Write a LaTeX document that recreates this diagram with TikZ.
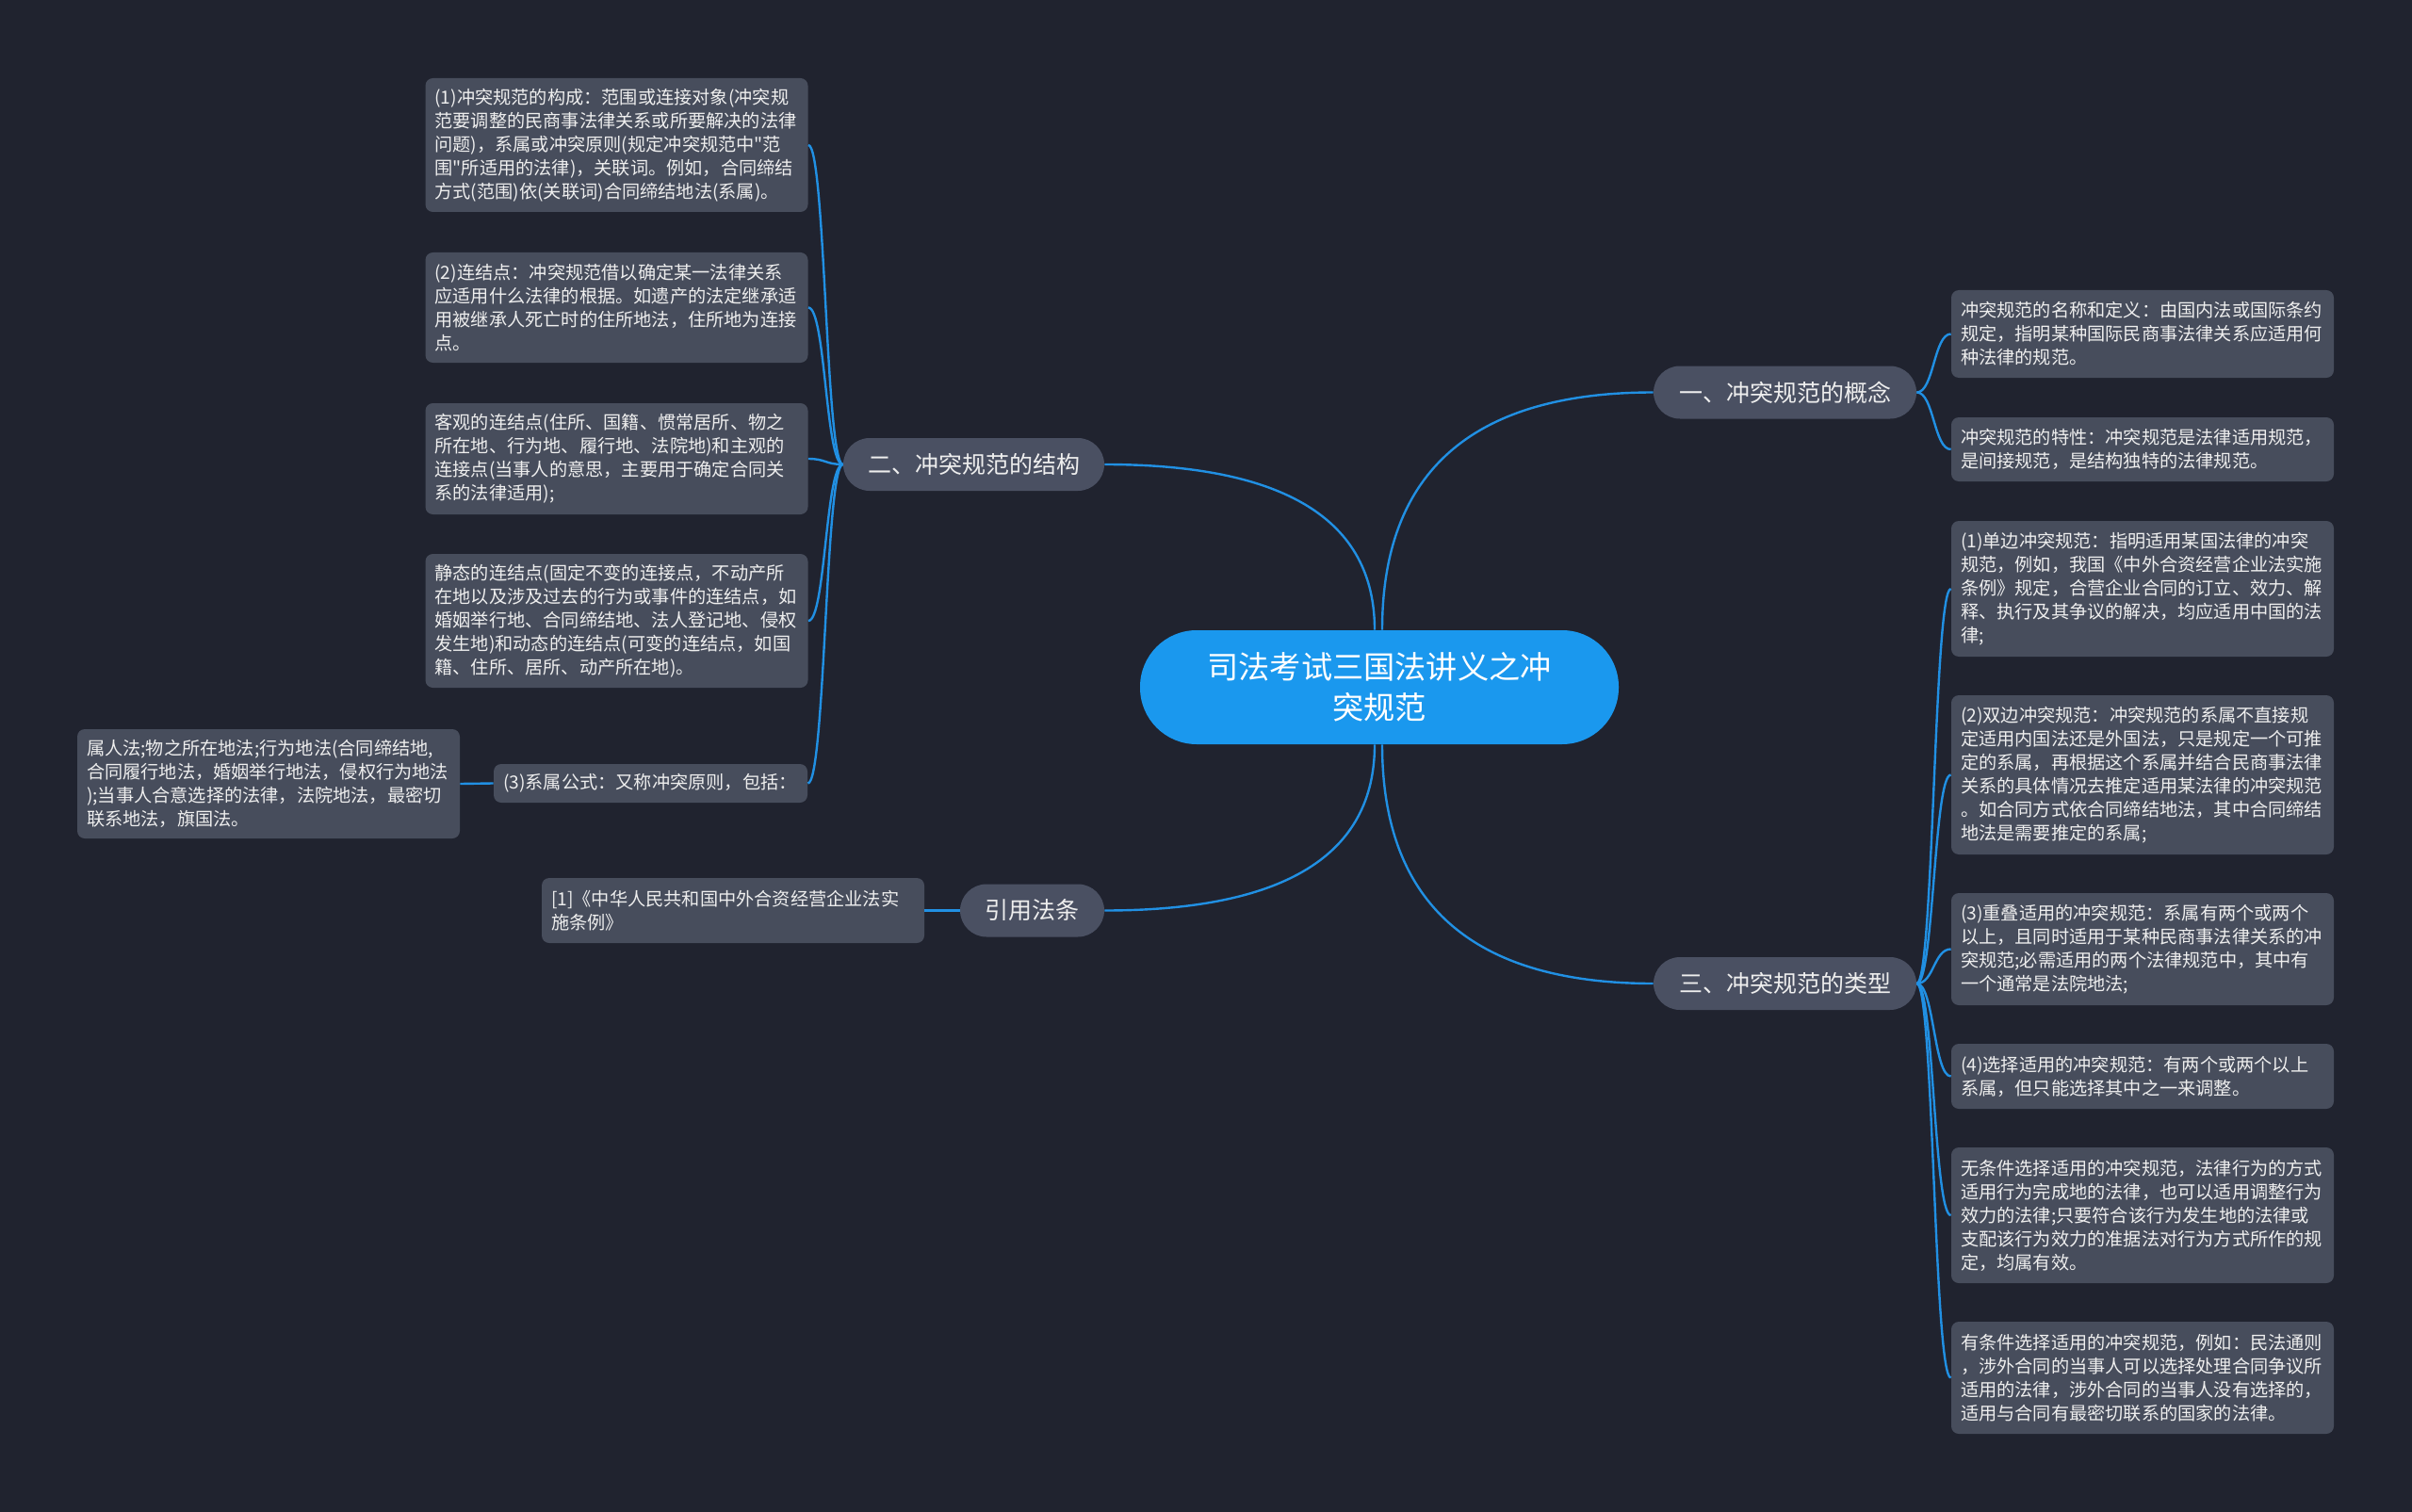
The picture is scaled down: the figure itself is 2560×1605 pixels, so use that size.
\documentclass[tikz,border=0pt]{standalone}
\usepackage{fontspec}
\setmainfont{Noto Sans CJK SC}[Ligatures=TeXOff]
\usetikzlibrary{calc}
\definecolor{bg}{HTML}{20232F}
\definecolor{boxc}{HTML}{474D5C}
\definecolor{pillc}{HTML}{4A5062}
\definecolor{rootc}{HTML}{1A98EE}
\definecolor{linec}{HTML}{2190E3}
\definecolor{txt}{HTML}{EEEEEE}
\newcommand{\rootlink}[2]{\draw[conn] (#1) .. controls ($(#1)!0.6667!(#1|-#2)$) and ($(#2)!0.6667!(#1|-#2)$) .. (#2);}
\newcommand{\leaflink}[2]{\draw[conn] (#1) .. controls ($(#1)!0.5!(#2|-#1)$) and ($(#2)!0.5!(#1|-#2)$) .. (#2);}
\begin{document}
\begin{tikzpicture}[x=0.5pt,y=-0.5pt,
  leaf/.style={fill=boxc, rounded corners=4pt, text=txt, align=left, text width=193pt, inner xsep=5pt, inner ysep=0pt, font=\fontsize{9.6pt}{12.5pt}\selectfont},
  pill/.style={fill=pillc, rounded corners=14pt, text=txt, minimum height=28pt, inner xsep=0pt, font=\fontsize{12.5pt}{15pt}\selectfont},
  rootnode/.style={fill=rootc, rounded corners=30pt, text=white, align=center, minimum width=254pt, minimum height=60.5pt, font=\fontsize{16.6pt}{21.5pt}\selectfont},
  conn/.style={draw=linec, line width=1.2pt}]
\fill[bg] (0,0) rectangle (2560,1605);
\useasboundingbox (0,0) rectangle (2560,1605);

\node[rootnode] (root) at (1464,729.5) {司法考试三国法讲义之冲\\突规范};

\node[pill, minimum width=139.5pt] (n1) at (1894.5,416.5) {一、冲突规范的概念};
\node[pill, minimum width=139.5pt] (n3) at (1894.5,1044) {三、冲突规范的类型};
\node[pill, minimum width=138.5pt] (n2) at (1033.5,493) {二、冲突规范的结构};
\node[pill, minimum width=76.5pt] (n4) at (1095.5,966.5) {引用法条};

% right leaves
\node[leaf, minimum height=46.5pt] (a1) at (2274,354.5) {冲突规范的名称和定义：由国内法或国际条约\\规定，指明某种国际民商事法律关系应适用何\\种法律的规范。};
\node[leaf, minimum height=34pt] (a2) at (2274,477) {冲突规范的特性：冲突规范是法律适用规范，\\是间接规范，是结构独特的法律规范。};

\node[leaf, minimum height=72pt] (c1) at (2274,625) {(1)单边冲突规范：指明适用某国法律的冲突\\规范，例如，我国《中外合资经营企业法实施\\条例》规定，合营企业合同的订立、效力、解\\释、执行及其争议的解决，均应适用中国的法\\律;};
\node[leaf, minimum height=84.5pt] (c2) at (2274,822.5) {(2)双边冲突规范：冲突规范的系属不直接规\\定适用内国法还是外国法，只是规定一个可推\\定的系属，再根据这个系属并结合民商事法律\\关系的具体情况去推定适用某法律的冲突规范\\。如合同方式依合同缔结地法，其中合同缔结\\地法是需要推定的系属;};
\node[leaf, minimum height=59.5pt] (c3) at (2274,1007.5) {(3)重叠适用的冲突规范：系属有两个或两个\\以上，且同时适用于某种民商事法律关系的冲\\突规范;必需适用的两个法律规范中，其中有\\一个通常是法院地法;};
\node[leaf, minimum height=34.5pt] (c4) at (2274,1142.5) {(4)选择适用的冲突规范：有两个或两个以上\\系属，但只能选择其中之一来调整。};
\node[leaf, minimum height=72pt] (c5) at (2274,1290) {无条件选择适用的冲突规范，法律行为的方式\\适用行为完成地的法律，也可以适用调整行为\\效力的法律;只要符合该行为发生地的法律或\\支配该行为效力的准据法对行为方式所作的规\\定，均属有效。};
\node[leaf, minimum height=59.5pt] (c6) at (2274,1462.5) {有条件选择适用的冲突规范，例如：民法通则\\，涉外合同的当事人可以选择处理合同争议所\\适用的法律，涉外合同的当事人没有选择的，\\适用与合同有最密切联系的国家的法律。};

% left leaves
\node[leaf, minimum height=71pt] (b1) at (654.5,154) {(1)冲突规范的构成：范围或连接对象(冲突规\\范要调整的民商事法律关系或所要解决的法律\\问题)，系属或冲突原则(规定冲突规范中"范\\围"所适用的法律)，关联词。例如，合同缔结\\方式(范围)依(关联词)合同缔结地法(系属)。};
\node[leaf, minimum height=58.5pt] (b2) at (654.5,326.5) {(2)连结点：冲突规范借以确定某一法律关系\\应适用什么法律的根据。如遗产的法定继承适\\用被继承人死亡时的住所地法，住所地为连接\\点。};
\node[leaf, minimum height=59pt] (b3) at (654.5,487) {客观的连结点(住所、国籍、惯常居所、物之\\所在地、行为地、履行地、法院地)和主观的\\连接点(当事人的意思，主要用于确定合同关\\系的法律适用);};
\node[leaf, minimum height=71pt] (b4) at (654.5,659) {静态的连结点(固定不变的连接点，不动产所\\在地以及涉及过去的行为或事件的连结点，如\\婚姻举行地、合同缔结地、法人登记地、侵权\\发生地)和动态的连结点(可变的连结点，如国\\籍、住所、居所、动产所在地)。};
\node[leaf, text width=156.5pt, minimum height=20.5pt] (b5) at (690.5,831.5) {(3)系属公式：又称冲突原则，包括：};
\node[leaf, minimum height=58pt] (g1) at (285,832) {属人法;物之所在地法;行为地法(合同缔结地,\\合同履行地法，婚姻举行地法，侵权行为地法\\);当事人合意选择的法律，法院地法，最密切\\联系地法，旗国法。};
\node[leaf, minimum height=34.5pt] (d1) at (778,966.5) {[1]《中华人民共和国中外合资经营企业法实\\施条例》};

% root connectors
\coordinate (rtR) at ([xshift=1.5pt]root.north);
\coordinate (rtL) at ([xshift=-2.5pt]root.north);
\coordinate (rbR) at ([xshift=1.5pt]root.south);
\coordinate (rbL) at ([xshift=-2.5pt]root.south);
\rootlink{rtR}{n1.west}
\rootlink{rbR}{n3.west}
\rootlink{rtL}{n2.east}
\rootlink{rbL}{n4.east}

% leaf connectors
\leaflink{n1.east}{a1.west}
\leaflink{n1.east}{a2.west}
\leaflink{n3.east}{c1.west}
\leaflink{n3.east}{c2.west}
\leaflink{n3.east}{c3.west}
\leaflink{n3.east}{c4.west}
\leaflink{n3.east}{c5.west}
\leaflink{n3.east}{c6.west}
\leaflink{n2.west}{b1.east}
\leaflink{n2.west}{b2.east}
\leaflink{n2.west}{b3.east}
\leaflink{n2.west}{b4.east}
\leaflink{n2.west}{b5.east}
\draw[conn] (b5.west) -- (g1.east);
\draw[conn] (n4.west) -- (d1.east);
\end{tikzpicture}
\end{document}
